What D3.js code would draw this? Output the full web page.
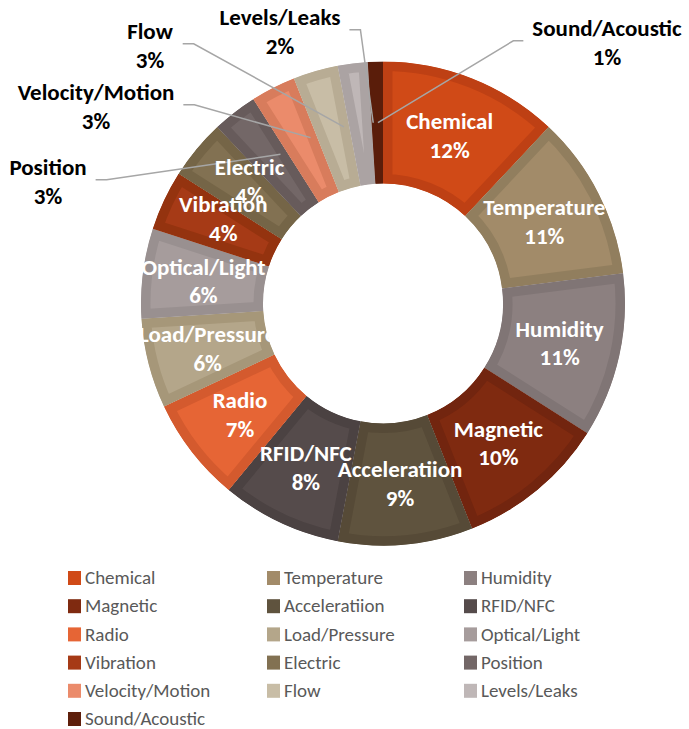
<!DOCTYPE html>
<html>
<head>
<meta charset="utf-8">
<script src="https://cdn.jsdelivr.net/npm/d3@7"></script>
<style>
  html, body { margin: 0; padding: 0; background: #fff; }
  svg { display: block; }
</style>
</head>
<body>
<svg id="chart" width="689" height="729"></svg>
<script>
// ---- data ----
const categories = ["Chemical","Temperature","Humidity","Magnetic","Acceleratiion","RFID/NFC","Radio","Load/Pressure","Optical/Light","Vibration","Electric","Position","Velocity/Motion","Flow","Levels/Leaks","Sound/Acoustic"];
const values = [12, 11, 11, 10, 9, 8, 7, 6, 6, 4, 4, 3, 3, 3, 2, 1];
const percentLabels = ["12%","11%","11%","10%","9%","8%","7%","6%","6%","4%","4%","3%","3%","3%","2%","1%"];

// ---- styles ----
const mainColors   = ["#D04A17","#A28B69","#8C8080","#7F2A10","#5F533E","#554B4B","#E66535","#B4A68A","#A69C9C","#A63A16","#827152","#736767","#EB8B6B","#C8BDA6","#BFB7B7","#5E1F0B"];
const borderColors = ["#BE4014","#917E5E","#807575","#72250F","#564A37","#4B4242","#D45A2E","#A69779","#999090","#94330F","#756547","#675B5B","#D87C5C","#B8AC94","#ABA3A3","#5A1D0A"];

const W = 689, H = 729;
const cx = 383, cy = 303.5, rOuter = 242, rInner = 120, rLabel = 181;

// outside label layout (index -> label center x, first line y, leader angle shift in degrees)
const outsideLayout = {
  15: {x: 607, y: 28, shift: 0.2},
  14: {x: 280, y: 17, shift: 4.1},
  13: {x: 150, y: 31, shift: 3.7},
  12: {x: 96,  y: 92, shift: 3.4},
  11: {x: 48,  y: 167, shift: 3.3}
};
// small nudges for inside labels that Excel moved to avoid overlap
const insideNudge = {9: [4, -8], 10: [6, -7]};

const svg = d3.select("#chart");
const defs = svg.append("defs");
const fontFam = "Carlito, Calibri, Lato, 'Open Sans', sans-serif";
const labelSize = 23;

const pie = d3.pie().sort(null).value(d => d);
const arcs = pie(values);
const arc = d3.arc().innerRadius(rInner).outerRadius(rOuter);

const g = svg.append("g").attr("transform", `translate(${cx},${cy})`);

arcs.forEach((a, i) => {
  defs.append("clipPath").attr("id", "clip" + i)
    .append("path").attr("d", arc(a));
  g.append("path")
    .attr("d", arc(a))
    .attr("fill", mainColors[i])
    .attr("stroke", borderColors[i])
    .attr("stroke-width", 19)
    .attr("clip-path", `url(#clip${i})`);
});

// leader lines + outside labels
const lineH = 28.5;
const leaderG = svg.append("g");
const textG = svg.append("g");

arcs.forEach((a, i) => {
  const mid = (a.startAngle + a.endAngle) / 2;
  if (outsideLayout[i]) {
    const L = outsideLayout[i];
    const t = textG.append("text")
      .attr("font-family", fontFam).attr("font-weight", "bold")
      .attr("font-size", labelSize).attr("fill", "#000")
      .attr("text-anchor", "middle");
    t.append("tspan").attr("x", L.x).attr("y", L.y).attr("dy", "0.35em").text(categories[i]);
    t.append("tspan").attr("x", L.x).attr("y", L.y + lineH).attr("dy", "0.35em").text(percentLabels[i]);
    const bb = t.node().getBBox();
    const ang = mid + L.shift * Math.PI / 180;
    const ex = cx + rLabel * Math.sin(ang), ey = cy - rLabel * Math.cos(ang);
    const sy = L.y + lineH / 2 - 1.5;
    let sx, elx;
    if (L.x > ex) { sx = bb.x - 9; elx = sx - 10; }
    else { sx = bb.x + bb.width + 9; elx = sx + 11; }
    leaderG.append("polyline")
      .attr("points", `${sx},${sy} ${elx},${sy} ${ex},${ey}`)
      .attr("fill", "none").attr("stroke", "#A6A6A6").attr("stroke-width", 1.5);
  } else {
    const c = d3.arc().innerRadius(rLabel).outerRadius(rLabel).centroid(a);
    const n = insideNudge[i] || [0, 0];
    const x = cx + c[0] + n[0], y = cy + c[1] + n[1];
    const t = textG.append("text")
      .attr("font-family", fontFam).attr("font-weight", "bold")
      .attr("font-size", labelSize).attr("fill", "#fff")
      .attr("text-anchor", "middle");
    t.append("tspan").attr("x", x).attr("y", y - lineH / 2).attr("dy", "0.35em").text(categories[i]);
    t.append("tspan").attr("x", x).attr("y", y + lineH / 2).attr("dy", "0.35em").text(percentLabels[i]);
  }
});
leaderG.raise(); textG.raise();

// legend
const colX = [68, 267, 464];
const rowY0 = 578, rowStep = 28.2;
const legend = svg.append("g");
categories.forEach((name, i) => {
  const col = i % 3, row = Math.floor(i / 3);
  const x = colX[col], y = rowY0 + row * rowStep;
  legend.append("rect").attr("x", x).attr("y", y - 7).attr("width", 13).attr("height", 14)
    .attr("fill", mainColors[i]);
  legend.append("text").attr("x", x + 17).attr("y", y).attr("dy", "0.33em")
    .attr("font-family", fontFam).attr("font-size", 19).attr("fill", "#595959")
    .text(name);
});
</script>
</body>
</html>
